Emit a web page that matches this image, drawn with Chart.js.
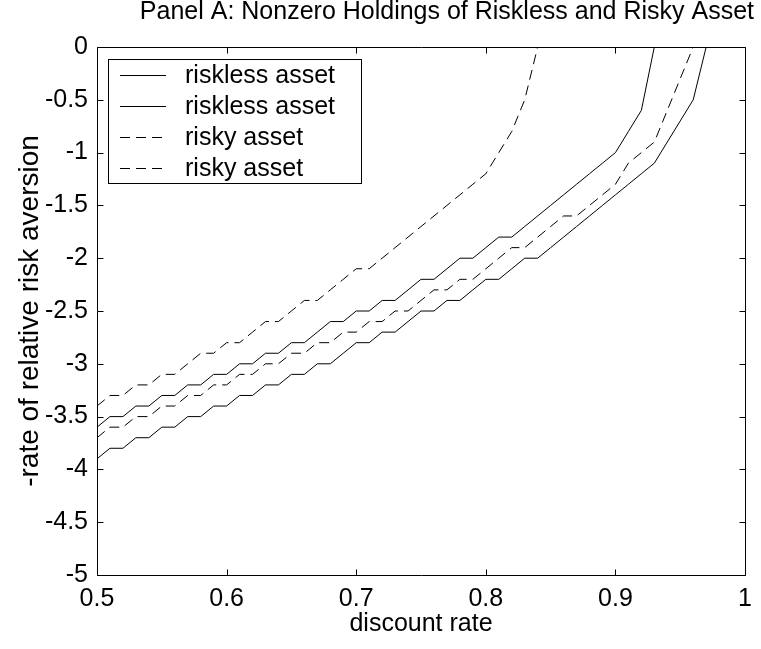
<!DOCTYPE html>
<html>
<head>
<meta charset="utf-8">
<title>Panel A: Nonzero Holdings of Riskless and Risky Asset</title>
<script src="https://cdn.jsdelivr.net/npm/chart.js@4.4.1/dist/chart.umd.min.js"></script>
<style>
  html, body { margin: 0; padding: 0; background: #fff; }
  #wrap { width: 761px; height: 649px; }
</style>
</head>
<body>
<div id="wrap"><canvas id="chart" width="761" height="649"></canvas></div>
<script>
const FONT = "'Liberation Sans', Arial, Helvetica, sans-serif";

// discount rate grid (x)
const xValues = [
  0.50, 0.51, 0.52, 0.53, 0.54, 0.55, 0.56, 0.57, 0.58, 0.59,
  0.60, 0.61, 0.62, 0.63, 0.64, 0.65, 0.66, 0.67, 0.68, 0.69,
  0.70, 0.71, 0.72, 0.73, 0.74, 0.75, 0.76, 0.77, 0.78, 0.79,
  0.80, 0.81, 0.82, 0.83, 0.84, 0.85, 0.86, 0.87, 0.88, 0.89,
  0.90, 0.91, 0.92, 0.93, 0.94, 0.95, 0.96, 0.97
];

// -rate of relative risk aversion
const risklessUpper = [
  -3.6, -3.5, -3.5, -3.4, -3.4, -3.3, -3.3, -3.2, -3.2, -3.1,
  -3.1, -3.0, -3.0, -2.9, -2.9, -2.8, -2.8, -2.7, -2.6, -2.6,
  -2.5, -2.5, -2.4, -2.4, -2.3, -2.2, -2.2, -2.1, -2.0, -2.0,
  -1.9, -1.8, -1.8, -1.7, -1.6, -1.5, -1.4, -1.3, -1.2, -1.1,
  -1.0, -0.8, -0.6, 0
];
const risklessLower = [
  -3.9, -3.8, -3.8, -3.7, -3.7, -3.6, -3.6, -3.5, -3.5, -3.4,
  -3.4, -3.3, -3.3, -3.2, -3.2, -3.1, -3.1, -3.0, -3.0, -2.9,
  -2.8, -2.8, -2.7, -2.7, -2.6, -2.5, -2.5, -2.4, -2.4, -2.3,
  -2.2, -2.2, -2.1, -2.0, -2.0, -1.9, -1.8, -1.7, -1.6, -1.5,
  -1.4, -1.3, -1.2, -1.1, -0.9, -0.7, -0.5, 0
];
const riskyLower = [
  -3.7, -3.6, -3.6, -3.5, -3.5, -3.4, -3.4, -3.3, -3.3, -3.2,
  -3.2, -3.1, -3.1, -3.0, -3.0, -2.9, -2.9, -2.8, -2.8, -2.7,
  -2.7, -2.6, -2.6, -2.5, -2.5, -2.4, -2.3, -2.3, -2.2, -2.2,
  -2.1, -2.0, -1.9, -1.9, -1.8, -1.7, -1.6, -1.6, -1.5, -1.4,
  -1.3, -1.1, -1.0, -0.9, -0.6, -0.3, 0
];
const riskyUpper = [
  -3.4, -3.3, -3.3, -3.2, -3.2, -3.1, -3.1, -3.0, -2.9, -2.9,
  -2.8, -2.8, -2.7, -2.6, -2.6, -2.5, -2.4, -2.4, -2.3, -2.2,
  -2.1, -2.1, -2.0, -1.9, -1.8, -1.7, -1.6, -1.5, -1.4, -1.3,
  -1.2, -1.0, -0.8, -0.5, 0
];

const seriesLabels = ["riskless asset", "riskless asset", "risky asset", "risky asset"];
const xTicks = [0.5, 0.6, 0.7, 0.8, 0.9, 1];
const yTicks = [-5, -4.5, -4, -3.5, -3, -2.5, -2, -1.5, -1, -0.5, 0];

function toPoints(ys) {
  return ys.map((y, i) => ({ x: xValues[i], y: y }));
}

function makeSet(label, ys, dashed) {
  return {
    label: label,
    data: toPoints(ys),
    borderColor: "#000",
    borderWidth: 1,
    borderDash: dashed ? [10, 6] : [],
    pointRadius: 0,
    tension: 0,
    fill: false,
  };
}

// box round the axes with MATLAB style inward ticks
const axesBox = {
  id: "axesBox",
  afterDatasetsDraw(chart) {
    const { ctx, chartArea: a, scales } = chart;
    const px = (v) => Math.round(v) + 0.5;
    const len = 6;
    ctx.save();
    ctx.strokeStyle = "#000";
    ctx.lineWidth = 1;
    ctx.setLineDash([]);
    ctx.beginPath();
    ctx.rect(px(a.left), px(a.top), Math.round(a.right) - Math.round(a.left), Math.round(a.bottom) - Math.round(a.top));
    xTicks.forEach((v) => {
      const x = px(scales.x.getPixelForValue(v));
      ctx.moveTo(x, px(a.bottom));
      ctx.lineTo(x, px(a.bottom) - len);
      ctx.moveTo(x, px(a.top));
      ctx.lineTo(x, px(a.top) + len);
    });
    yTicks.forEach((v) => {
      const y = px(scales.y.getPixelForValue(v));
      ctx.moveTo(px(a.left), y);
      ctx.lineTo(px(a.left) + len, y);
      ctx.moveTo(px(a.right), y);
      ctx.lineTo(px(a.right) - len, y);
    });
    ctx.stroke();
    ctx.restore();
  },
};

// legend box in the upper left of the axes
const boxLegend = {
  id: "boxLegend",
  afterDraw(chart) {
    const { ctx } = chart;
    const left = 108, top = 59, right = 361, bottom = 183;
    const rowH = (bottom - top) / chart.data.datasets.length;
    ctx.save();
    ctx.fillStyle = "#fff";
    ctx.fillRect(left, top, right - left, bottom - top);
    ctx.strokeStyle = "#000";
    ctx.lineWidth = 1;
    ctx.setLineDash([]);
    ctx.strokeRect(left + 0.5, top + 0.5, right - left, bottom - top);
    ctx.font = "25px " + FONT;
    ctx.textBaseline = "middle";
    ctx.fillStyle = "#000";
    chart.data.datasets.forEach((ds, i) => {
      const y = Math.round(top + rowH * (i + 0.5)) + 0.5;
      ctx.beginPath();
      ctx.setLineDash(ds.borderDash);
      ctx.moveTo(120, y);
      ctx.lineTo(166, y);
      ctx.stroke();
      ctx.fillText(ds.label, 185, y + 1);
    });
    ctx.restore();
  },
};

new Chart(document.getElementById("chart").getContext("2d"), {
  type: "line",
  data: {
    datasets: [
      makeSet(seriesLabels[0], risklessUpper, false),
      makeSet(seriesLabels[1], risklessLower, false),
      makeSet(seriesLabels[2], riskyLower, true),
      makeSet(seriesLabels[3], riskyUpper, true),
    ],
  },
  options: {
    responsive: false,
    animation: false,
    devicePixelRatio: 1,
    layout: { padding: { left: 0, top: 0, right: 7, bottom: 0 } },
    scales: {
      x: {
        type: "linear",
        min: 0.5,
        max: 1,
        afterBuildTicks: (scale) => { scale.ticks = xTicks.map((v) => ({ value: v })); },
        afterFit: (scale) => { scale.height = 74; },
        grid: { display: false, drawTicks: false },
        border: { display: false },
        ticks: {
          padding: 9,
          color: "#000",
          font: { family: FONT, size: 25 },
          maxRotation: 0,
          autoSkip: false,
          callback: (v) => String(v),
        },
        title: {
          display: true,
          text: "discount rate",
          color: "#000",
          font: { family: FONT, size: 25 },
          padding: { top: 0, bottom: 10 },
        },
      },
      y: {
        type: "linear",
        min: -5,
        max: 0,
        afterBuildTicks: (scale) => { scale.ticks = yTicks.map((v) => ({ value: v })); },
        afterFit: (scale) => { scale.width = 97; },
        grid: { display: false, drawTicks: false },
        border: { display: false },
        ticks: {
          padding: 9,
          color: "#000",
          font: { family: FONT, size: 25 },
          autoSkip: false,
          callback: (v) => String(v),
        },
        title: {
          display: true,
          text: "-rate of relative risk aversion",
          color: "#000",
          font: { family: FONT, size: 28 },
          padding: { top: 13, bottom: 0 },
        },
      },
    },
    plugins: {
      legend: { display: false },
      tooltip: { enabled: false },
      title: {
        display: true,
        text: "Panel A: Nonzero Holdings of Riskless and Risky Asset",
        align: "end",
        color: "#000",
        font: { family: FONT, size: 25, weight: "normal", lineHeight: 1 },
        padding: { top: 0, bottom: 22 },
      },
    },
  },
  plugins: [axesBox, boxLegend],
});
</script>
</body>
</html>
